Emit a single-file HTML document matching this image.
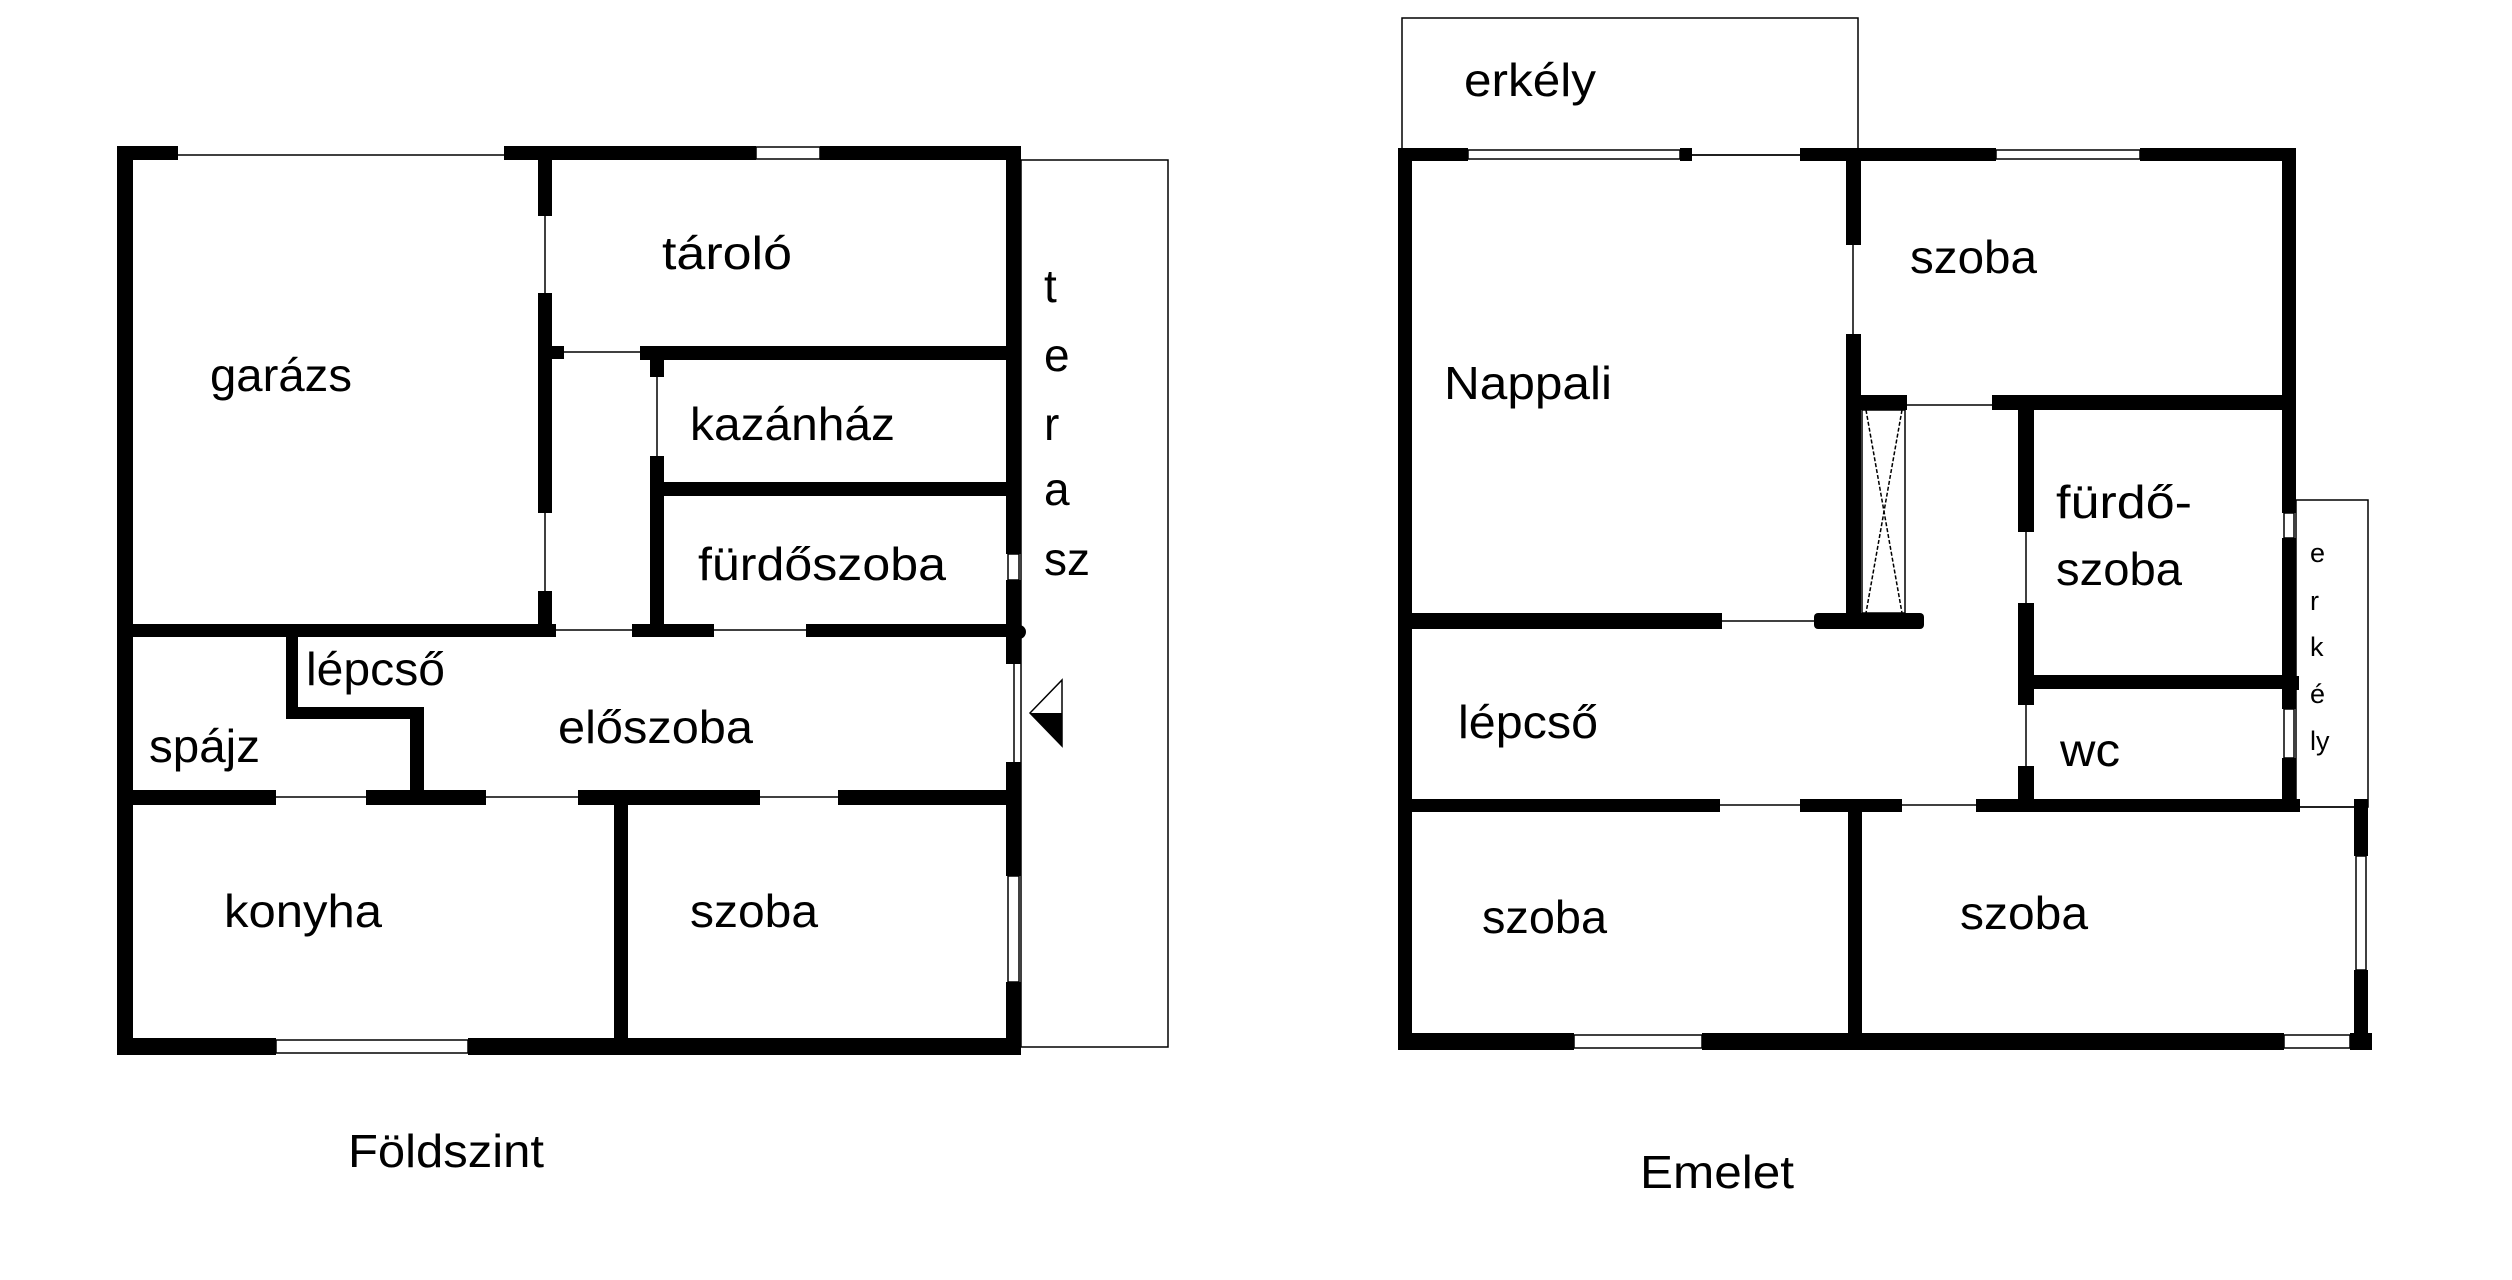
<!DOCTYPE html>
<html><head><meta charset="utf-8"><style>
html,body{margin:0;padding:0;background:#fff;}
svg{display:block;}
text{font-family:"Liberation Sans","DejaVu Sans",sans-serif;fill:#000;}
.t{font-size:46px;}
.w{fill:#fff;stroke:#000;stroke-width:1.5;}
.l{stroke:#000;stroke-width:1.5;fill:none;}
</style></head><body>
<svg width="2512" height="1280" viewBox="0 0 2512 1280" xmlns="http://www.w3.org/2000/svg">
<rect width="2512" height="1280" fill="#fff"/>
<!-- ===== GROUND FLOOR ===== -->
<rect class="l" x="1021" y="160" width="147" height="887"/>
<rect x="117" y="146" width="61" height="14"/>
<line class="l" x1="178" y1="155" x2="504" y2="155"/>
<rect x="504" y="146" width="252" height="14"/>
<rect class="w" x="756" y="147" width="64" height="12"/>
<rect x="820" y="146" width="201" height="14"/>
<rect x="117" y="146" width="16" height="909"/>
<rect x="117" y="1038" width="159" height="17"/>
<rect class="w" x="276" y="1040" width="192" height="13"/>
<rect x="468" y="1038" width="553" height="17"/>
<rect x="1006" y="146" width="15" height="408"/>
<rect class="w" x="1008" y="554" width="11" height="26"/>
<rect x="1006" y="580" width="15" height="84"/>
<circle cx="1019" cy="632" r="7"/>
<line class="l" x1="1014" y1="664" x2="1014" y2="762"/>
<rect x="1006" y="762" width="15" height="114"/>
<rect class="w" x="1008" y="876" width="11" height="106"/>
<rect x="1006" y="982" width="15" height="73"/>
<polygon points="1030,713 1062,680 1062,746" fill="#fff" stroke="#000" stroke-width="1.5"/>
<polygon points="1030,713 1062,713 1062,746" fill="#000"/>
<rect x="538" y="155" width="14" height="61"/>
<line class="l" x1="545" y1="216" x2="545" y2="293"/>
<rect x="538" y="293" width="14" height="220"/>
<line class="l" x1="545" y1="513" x2="545" y2="591"/>
<rect x="538" y="591" width="14" height="41"/>
<rect x="552" y="346" width="12" height="13"/>
<line class="l" x1="564" y1="352" x2="640" y2="352"/>
<rect x="640" y="346" width="366" height="14"/>
<rect x="650" y="360" width="14" height="17"/>
<line class="l" x1="657" y1="377" x2="657" y2="456"/>
<rect x="650" y="456" width="14" height="176"/>
<rect x="664" y="482" width="342" height="14"/>
<rect x="126" y="624" width="430" height="13"/>
<line class="l" x1="556" y1="630" x2="632" y2="630"/>
<rect x="632" y="624" width="82" height="13"/>
<line class="l" x1="714" y1="630" x2="806" y2="630"/>
<rect x="806" y="624" width="215" height="13"/>
<rect x="286" y="637" width="12" height="80"/>
<rect x="286" y="707" width="138" height="12"/>
<rect x="410" y="707" width="14" height="88"/>
<rect x="126" y="790" width="150" height="15"/>
<line class="l" x1="276" y1="797" x2="366" y2="797"/>
<rect x="366" y="790" width="120" height="15"/>
<line class="l" x1="486" y1="797" x2="578" y2="797"/>
<rect x="578" y="790" width="182" height="15"/>
<line class="l" x1="760" y1="797" x2="838" y2="797"/>
<rect x="838" y="790" width="183" height="15"/>
<rect x="614" y="805" width="14" height="235"/>
<text class="t" x="662" y="269" textLength="130" lengthAdjust="spacingAndGlyphs">tároló</text>
<text class="t" x="210" y="391" textLength="142" lengthAdjust="spacingAndGlyphs">garázs</text>
<text class="t" x="690" y="440" textLength="205" lengthAdjust="spacingAndGlyphs">kazánház</text>
<text class="t" x="698" y="580" textLength="248" lengthAdjust="spacingAndGlyphs">fürdőszoba</text>
<text class="t" x="306" y="685" textLength="139" lengthAdjust="spacingAndGlyphs">lépcső</text>
<text class="t" x="558" y="743" textLength="195" lengthAdjust="spacingAndGlyphs">előszoba</text>
<text class="t" x="149" y="762" textLength="111" lengthAdjust="spacingAndGlyphs">spájz</text>
<text class="t" x="224" y="927" textLength="158" lengthAdjust="spacingAndGlyphs">konyha</text>
<text class="t" x="690" y="927" textLength="128" lengthAdjust="spacingAndGlyphs">szoba</text>
<text class="t" x="1044" y="302">t</text>
<text class="t" x="1044" y="371">e</text>
<text class="t" x="1044" y="440">r</text>
<text class="t" x="1044" y="505">a</text>
<text class="t" x="1044" y="575">sz</text>
<text class="t" x="348" y="1167" textLength="196" lengthAdjust="spacingAndGlyphs">Földszint</text>

<!-- ===== UPPER FLOOR ===== -->
<rect class="l" x="1402" y="18" width="456" height="137"/>
<rect x="1398" y="148" width="70" height="13"/>
<rect class="w" x="1468" y="150" width="212" height="9"/>
<rect x="1680" y="148" width="12" height="13"/>
<line class="l" x1="1692" y1="155" x2="1800" y2="155"/>
<rect x="1800" y="148" width="196" height="13"/>
<rect class="w" x="1996" y="150" width="144" height="9"/>
<rect x="2140" y="148" width="156" height="13"/>
<rect x="1398" y="148" width="14" height="902"/>
<rect x="2282" y="148" width="14" height="365"/>
<rect class="w" x="2284" y="513" width="10" height="25"/>
<rect x="2282" y="538" width="14" height="171"/>
<rect x="2282" y="676" width="17" height="14"/>
<rect class="w" x="2284" y="709" width="10" height="49"/>
<rect x="2282" y="758" width="14" height="49"/>
<rect class="l" x="2296" y="500" width="72" height="307"/>
<text x="2310" y="562" font-size="27">e</text>
<text x="2310" y="610" font-size="27">r</text>
<text x="2310" y="656" font-size="27">k</text>
<text x="2310" y="703" font-size="27">é</text>
<text x="2310" y="750" font-size="27">ly</text>
<rect x="2354" y="799" width="14" height="57"/>
<rect class="w" x="2356" y="856" width="10" height="114"/>
<rect x="2354" y="970" width="14" height="80"/>
<rect x="1398" y="1033" width="176" height="17"/>
<rect class="w" x="1574" y="1035" width="128" height="13"/>
<rect x="1702" y="1033" width="582" height="17"/>
<rect class="w" x="2284" y="1035" width="66" height="13"/>
<rect x="2350" y="1033" width="22" height="17"/>
<rect x="1846" y="155" width="15" height="90"/>
<line class="l" x1="1853" y1="245" x2="1853" y2="334"/>
<rect x="1846" y="334" width="15" height="285"/>
<rect x="1861" y="395" width="46" height="15"/>
<rect class="l" x="1862" y="410" width="43" height="203"/>
<line x1="1866" y1="410" x2="1902" y2="613" stroke="#000" stroke-width="1.5" stroke-dasharray="4,2"/>
<line x1="1902" y1="410" x2="1866" y2="613" stroke="#000" stroke-width="1.5" stroke-dasharray="4,2"/>
<line class="l" x1="1907" y1="405" x2="1992" y2="405"/>
<rect x="1992" y="395" width="296" height="15"/>
<rect x="1412" y="613" width="310" height="16"/>
<line class="l" x1="1722" y1="621" x2="1814" y2="621"/>
<rect x="1814" y="613" width="110" height="16" rx="4"/>
<rect x="2018" y="407" width="16" height="125"/>
<line class="l" x1="2026" y1="532" x2="2026" y2="603"/>
<rect x="2018" y="603" width="16" height="102"/>
<line class="l" x1="2026" y1="705" x2="2026" y2="766"/>
<rect x="2018" y="766" width="16" height="33"/>
<rect x="2034" y="675" width="254" height="14"/>
<rect x="1412" y="799" width="308" height="13"/>
<line class="l" x1="1720" y1="805" x2="1800" y2="805"/>
<rect x="1800" y="799" width="102" height="13"/>
<line class="l" x1="1902" y1="805" x2="1976" y2="805"/>
<rect x="1976" y="799" width="324" height="13"/>
<line class="l" x1="2300" y1="807" x2="2368" y2="807"/>
<rect x="1848" y="811" width="14" height="228"/>
<text class="t" x="1464" y="96" textLength="132" lengthAdjust="spacingAndGlyphs">erkély</text>
<text class="t" x="1910" y="273" textLength="127" lengthAdjust="spacingAndGlyphs">szoba</text>
<text class="t" x="1444" y="399" textLength="168" lengthAdjust="spacingAndGlyphs">Nappali</text>
<text class="t" x="2056" y="518" textLength="136" lengthAdjust="spacingAndGlyphs">fürdő-</text>
<text class="t" x="2056" y="585" textLength="126" lengthAdjust="spacingAndGlyphs">szoba</text>
<text class="t" x="1458" y="738" textLength="140" lengthAdjust="spacingAndGlyphs">lépcső</text>
<text class="t" x="2060" y="766" textLength="60" lengthAdjust="spacingAndGlyphs">wc</text>
<text class="t" x="1482" y="933" textLength="125" lengthAdjust="spacingAndGlyphs">szoba</text>
<text class="t" x="1960" y="929" textLength="128" lengthAdjust="spacingAndGlyphs">szoba</text>
<text class="t" x="1640" y="1188" textLength="154" lengthAdjust="spacingAndGlyphs">Emelet</text>
</svg>
</body></html>
